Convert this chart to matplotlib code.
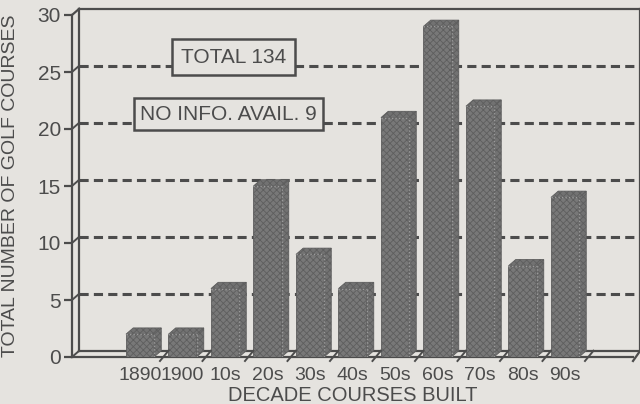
import numpy as np
import matplotlib.pyplot as plt
from matplotlib.patches import Polygon

# Datos
decadas = ['1890', '1900', '10s', '20s', '30s', '40s', '50s', '60s', '70s', '80s', '90s']
cursos  = [2, 2, 6, 15, 9, 6, 21, 29, 22, 8, 14]
total_txt = 'TOTAL 134'
noinfo_txt = 'NO INFO. AVAIL. 9'

# Estilo
fondo  = '#e5e3df'
tinta  = '#4c4c4c'
barra  = '#787878'
trama  = '#5e5e5e'
plt.rcParams['font.family'] = ['Liberation Sans', 'DejaVu Sans']
plt.rcParams['hatch.linewidth'] = 0.6

# Profundidad 3D (en unidades de datos)
ddx = 0.17
ddy = 0.55
w   = 0.66
x0, x1 = -1.6, 11.6

fig = plt.figure(figsize=(6.4, 4.04), dpi=100)
fig.patch.set_facecolor(fondo)
ax = fig.add_axes([72/640, 47/404, 561/640, 342/404])
ax.set_facecolor(fondo)
ax.set_xlim(x0, x1)
ax.set_ylim(0, 30)

for s in ['top', 'right']:
    ax.spines[s].set_visible(False)
for s in ['left', 'bottom']:
    ax.spines[s].set_color(tinta)
    ax.spines[s].set_linewidth(1.6)

# Pared trasera, pared izquierda y suelo
ax.plot([x0 + ddx, x1 + ddx], [30 + ddy, 30 + ddy], color=tinta, lw=1.6, clip_on=False)
ax.plot([x1 + ddx, x1 + ddx], [ddy, 30 + ddy], color=tinta, lw=1.6, clip_on=False)
ax.plot([x0 + ddx, x0 + ddx], [ddy, 30 + ddy], color=tinta, lw=1.6, clip_on=False)
ax.plot([x0, x0 + ddx], [30, 30 + ddy], color=tinta, lw=1.6, clip_on=False)
ax.plot([x0 + ddx, x1 + ddx], [ddy, ddy], color=tinta, lw=1.6, clip_on=False)
ax.plot([x1, x1 + ddx], [-0.35, ddy], color=tinta, lw=1.6, clip_on=False)

# Rejilla discontinua en la pared trasera
for yv in range(5, 30, 5):
    ax.plot([x0 + ddx, x1 + ddx], [yv + ddy, yv + ddy], color=tinta, lw=2.2,
            dashes=(3, 1.7), zorder=1, clip_on=False)
    ax.plot([x0, x0 + ddx], [yv, yv + ddy], color=tinta, lw=1.4, zorder=1, clip_on=False)
ax.plot([x0, x0 + ddx], [0, ddy], color=tinta, lw=1.4, clip_on=False)

# Barras
pos = np.arange(len(cursos))
ax.bar(pos, cursos, width=w, color=barra, edgecolor=trama, hatch='xxxxx',
       linewidth=0.6, zorder=3)
for i, v in zip(pos, cursos):
    xd = i + w/2
    lado = Polygon([(xd, 0), (xd + ddx, ddy), (xd + ddx, v + ddy), (xd, v)],
                   closed=True, facecolor='#727272', edgecolor=trama,
                   hatch='xxxxx', lw=0.6, zorder=3)
    tapa = Polygon([(i - w/2, v), (i - w/2 + ddx, v + ddy), (xd + ddx, v + ddy), (xd, v)],
                   closed=True, facecolor='#727272', edgecolor=trama,
                   hatch='xxxxx', lw=0.6, zorder=3)
    ax.add_patch(lado)
    ax.add_patch(tapa)
    # aristas punteadas
    ax.plot([xd, xd], [0, v], color='#9a9a9a', lw=1.0, ls=(0, (1, 1.5)), zorder=4)
    ax.plot([i - w/2, xd], [v, v], color='#9a9a9a', lw=1.0, ls=(0, (1, 1.5)), zorder=4)

# Marcas del eje x en los límites entre décadas
for b in pos + 0.5:
    ax.plot([b - 0.03, b + ddx], [-0.35, ddy], color=tinta, lw=1.4, zorder=4, clip_on=False)

# Ejes y etiquetas
ax.set_xticks(pos)
ax.set_xticklabels(decadas, fontsize=14, color=tinta)
ax.tick_params(axis='x', length=0, pad=7)
ax.set_yticks(range(0, 31, 5))
ax.tick_params(axis='y', length=6, width=1.6, color=tinta, labelsize=15,
               labelcolor=tinta, pad=2)

ax.set_xlabel('DECADE COURSES BUILT', fontsize=14.5, color=tinta)
ax.xaxis.set_label_coords(0.5, -0.085)
ax.set_ylabel('TOTAL NUMBER OF GOLF COURSES', fontsize=14, color=tinta)
ax.yaxis.set_label_coords(-0.095, 0.5)

# Cuadros de texto
ax.text(2.2, 26.3, total_txt, fontsize=15, color=tinta, ha='center', va='center',
        bbox=dict(boxstyle='square,pad=0.42', facecolor=fondo, edgecolor=tinta,
                  linewidth=1.8), zorder=5)
ax.text(2.08, 21.3, noinfo_txt, fontsize=15, color=tinta, ha='center', va='center',
        bbox=dict(boxstyle='square,pad=0.3', facecolor=fondo, edgecolor=tinta,
                  linewidth=1.8), zorder=5)

plt.savefig('out.png', dpi=100, facecolor=fig.get_facecolor())
